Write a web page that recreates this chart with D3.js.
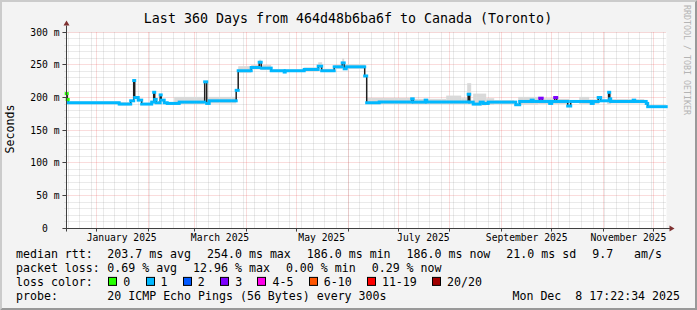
<!DOCTYPE html>
<html>
<head>
<meta charset="utf-8">
<script src="https://cdn.jsdelivr.net/npm/d3@7"></script>
<style>
  html, body { margin: 0; padding: 0; background: #f3f3f3; }
  svg { display: block; font-family: "DejaVu Sans Mono", monospace; }
  text { white-space: pre; }
</style>
</head>
<body>
<div id="svg-container"></div>
<script>
////////////////////////////////////////////////////////////////////
//////////////////////////////  Data  //////////////////////////////
const endTime = new Date(Date.UTC(2025, 11, 8, 17, 22, 34));
const spanDays = 360;

// median rtt steps: day offset from start of window, value in ms, loss bucket
const medianDays = [0, 0.6, 1.2, 31.8, 38.7, 40.5, 41.1, 43.2, 45.3, 51.3, 52.5, 53.1, 54, 56.4, 57,
  58.8, 60.6, 67.8, 83.1, 84.3, 85.8, 102, 103.2, 111, 115.8, 117, 123, 130.8, 131.4, 142.8,
  151.2, 153.3, 160.8, 165.6, 166.8, 168, 179.1, 180.3, 187.8, 207.3, 208.2, 215.4, 216.3, 241.2,
  242.1, 244.2, 248.4, 250.2, 253.2, 269.7, 272.1, 279, 280.2, 284.1, 285.6, 290.1, 291.3, 293.1,
  294.3, 300.9, 302.7, 315, 316.2, 319.2, 320.7, 325.5, 326.1, 326.7, 340.2, 341.1, 348, 348.9];
const medianMs = [206, 197, 192, 190, 195, 226, 200, 196, 190, 193, 208, 197, 192, 204, 196,
  192, 191, 193, 224, 191, 195, 211, 241, 246, 254, 245, 241, 239, 241, 243,
  248, 241, 247, 253, 244, 247, 233, 192, 193, 198, 193, 196, 193, 205,
  193, 190, 193, 191, 193, 189, 194, 196, 194, 199, 194, 191, 194, 200,
  194, 187, 194, 191, 194, 200, 195, 208, 198, 194, 196, 194, 191, 186];
const medianLoss = [0, 0, 1, 1, 1, 1, 1, 1, 1, 1, 1, 1, 1, 1, 1,
  1, 1, 1, 1, 1, 1, 1, 1, 1, 1, 1, 1, 1, 1, 1,
  1, 1, 1, 1, 1, 1, 1, 1, 1, 1, 1, 1, 1, 1,
  1, 1, 1, 1, 1, 1, 1, 1, 1, 3, 1, 1, 1, 3,
  1, 1, 1, 1, 1, 1, 1, 1, 1, 1, 1, 1, 1, 1];

// smoke (ping spread): from day, to day, low ms, high ms
const smokeFrom = [0, 1.2, 31.8, 64.8, 84.6, 103.2, 111, 115.8, 117, 123, 142.8, 151.2, 153.6, 160.8, 165.6,
  166.8, 180.6, 207, 228, 237, 240.6, 244.2, 252, 256.8, 271.2, 283.2, 292.8, 307.8, 313.8, 324.6, 327];
const smokeTo = [0.6, 31.8, 38.4, 82.8, 102, 111, 115.8, 117, 123, 142.8, 151.2, 153.6, 160.8, 165.6, 166.8,
  179.4, 207, 228, 237, 240.6, 243, 252, 256.8, 268.8, 283.2, 292.8, 301.8, 313.8, 319.8, 327, 346.8];
const smokeLo = [195, 190, 188, 190, 191, 238, 243, 245, 242, 239, 240, 244, 239, 244, 246,
  244, 190, 190, 190, 190, 190, 188, 189, 190, 189, 190, 190, 190, 190, 190, 191];
const smokeHi = [212, 194, 193, 201, 201, 248, 250, 258, 250, 243, 246, 254, 244, 250, 260,
  251, 199.5, 198, 203, 199, 222, 206, 199, 196, 201, 199, 198, 201, 197, 206, 197.5];

const yTicks = [0, 50, 100, 150, 200, 250, 300];
const monthLabels = ["January 2025", "March 2025", "May 2025", "July 2025", "September 2025", "November 2025"];

const lossLabels = ["0", "1", "2", "3", "4-5", "6-10", "11-19", "20/20"];
const lossColors = ["#26ff00", "#00b8ff", "#0059ff", "#7e00ff", "#ff00ea", "#ff5500", "#ff0000", "#a10000"];

const titleText = "Last 360 Days from 464d48b6ba6f to Canada (Toronto)";
const rttStats = ["203.7 ms avg", "254.0 ms max", "186.0 ms min", "186.0 ms now", "21.0 ms sd", "9.7   am/s"];
const lossStats = ["0.69 % avg", "12.96 % max", "0.00 % min", "0.29 % now"];
const probeText = "20 ICMP Echo Pings (56 Bytes) every 300s";
const stampText = "Mon Dec  8 17:22:34 2025";

////////////////////////////////////////////////////////////////////
//////////////////////////////  Init  //////////////////////////////
const width = 697, height = 310;
const svg = d3.select("#svg-container").append("svg")
    .attr("width", width).attr("height", height);

const startTime = new Date(endTime.getTime() - spanDays * 864e5);
const dayToDate = (d) => new Date(startTime.getTime() + d * 864e5);
const crisp = (v) => Math.floor(v) + 0.5;

const xScale = d3.scaleUtc().domain([startTime, endTime]).range([66.2, 666.2]);
const yScale = d3.scaleLinear().domain([0, 300]).range([228.2, 32.2]);

const plotLeft = crisp(xScale.range()[0]), plotRight = crisp(xScale.range()[1]);
const plotBottom = crisp(yScale(0)), plotTop = crisp(yScale(300));

// background + frame shading
svg.append("rect").attr("width", width).attr("height", height).attr("fill", "#f3f3f3");
svg.append("path").attr("fill", "#cbcbcb")
    .attr("d", `M0,0H${width}L${width - 2},2H2V${height - 2}L0,${height}Z`);
svg.append("path").attr("fill", "#999999")
    .attr("d", `M${width},0V${height}H0L2,${height - 2}H${width - 2}V2Z`);

// canvas
svg.append("rect")
    .attr("x", plotLeft).attr("y", plotTop)
    .attr("width", plotRight - plotLeft).attr("height", plotBottom - plotTop)
    .attr("fill", "#ffffff");

////////////////////////////////////////////////////////////////////
//////////////////////////////  Grid  //////////////////////////////
const minorColor = "rgba(143,143,143,0.38)";
const majorColor = "rgba(222,48,48,0.34)";
const grid = svg.append("g").attr("stroke-dasharray", "1,1").attr("stroke-width", 1);

// horizontal
d3.range(0, 301, 10).forEach((v) => {
    const yy = crisp(yScale(v));
    const major = v % 50 === 0;
    grid.append("line")
        .attr("x1", major ? plotLeft - 4 : plotLeft - 2).attr("x2", plotRight)
        .attr("y1", yy).attr("y2", yy)
        .attr("stroke", major ? majorColor : minorColor);
});

// vertical: weeks (minor) and months (major)
const weeks = d3.utcSunday.range(startTime, endTime);
const months = d3.utcMonth.range(startTime, endTime);
weeks.forEach((d) => {
    const xx = crisp(xScale(d));
    grid.append("line").attr("x1", xx).attr("x2", xx).attr("y1", plotTop).attr("y2", plotBottom)
        .attr("stroke", minorColor);
});
months.forEach((d) => {
    const xx = crisp(xScale(d));
    grid.append("line").attr("x1", xx).attr("x2", xx).attr("y1", plotTop).attr("y2", plotBottom + 3)
        .attr("stroke", majorColor);
});

////////////////////////////////////////////////////////////////////
//////////////////////////////  Smoke  /////////////////////////////
svg.append("g").selectAll("rect")
    .data(d3.range(smokeFrom.length))
    .enter().append("rect")
    .attr("x", (i) => xScale(dayToDate(smokeFrom[i])))
    .attr("width", (i) => xScale(dayToDate(smokeTo[i])) - xScale(dayToDate(smokeFrom[i])))
    .attr("y", (i) => yScale(smokeHi[i]))
    .attr("height", (i) => yScale(smokeLo[i]) - yScale(smokeHi[i]))
    .attr("fill", "#d9d9d9");

////////////////////////////////////////////////////////////////////
//////////////////////////////  Median  ////////////////////////////
const steps = medianDays.map((d, i) => ({
    x0: xScale(dayToDate(d)),
    x1: i < medianDays.length - 1 ? xScale(dayToDate(medianDays[i + 1])) : xScale(endTime),
    v: medianMs[i],
    loss: medianLoss[i]
}));

const stepLine = d3.line().x((d) => d[0]).y((d) => d[1]).curve(d3.curveStepAfter);
const linePts = steps.map((s) => [s.x0, yScale(s.v)]);
linePts.push([xScale(endTime), yScale(medianMs[medianMs.length - 1])]);

svg.append("path")
    .attr("d", stepLine(linePts))
    .attr("fill", "none")
    .attr("stroke", "#202020")
    .attr("stroke-width", 1.5);

svg.append("g").selectAll("line")
    .data(steps)
    .enter().append("line")
    .attr("x1", (d) => d.x0).attr("x2", (d) => d.x1)
    .attr("y1", (d) => yScale(d.v)).attr("y2", (d) => yScale(d.v))
    .attr("stroke", (d) => lossColors[d.loss])
    .attr("stroke-width", 3)
    .attr("stroke-linecap", "square");

////////////////////////////////////////////////////////////////////
//////////////////////////////  Axes  //////////////////////////////
const axisColor = "#404040";
const arrowColor = "#7f3131";

svg.append("line").attr("x1", plotLeft).attr("x2", plotRight + 4).attr("y1", plotBottom).attr("y2", plotBottom)
    .attr("stroke", axisColor);
svg.append("line").attr("x1", plotLeft).attr("x2", plotLeft).attr("y1", plotBottom + 3).attr("y2", plotTop - 7)
    .attr("stroke", axisColor);
svg.append("path").attr("fill", arrowColor)
    .attr("d", `M${plotRight + 3},${plotBottom - 3}L${plotRight + 8},${plotBottom}L${plotRight + 3},${plotBottom + 3}Z`);
svg.append("path").attr("fill", arrowColor)
    .attr("d", `M${plotLeft - 3},${plotTop - 7}L${plotLeft},${plotTop - 12}L${plotLeft + 3},${plotTop - 7}Z`);

// ticks
yTicks.forEach((v) => {
    const yy = crisp(yScale(v));
    svg.append("line").attr("x1", plotLeft - 4).attr("x2", plotLeft).attr("y1", yy).attr("y2", yy)
        .attr("stroke", axisColor);
});
months.forEach((d) => {
    const xx = crisp(xScale(d));
    svg.append("line").attr("x1", xx).attr("x2", xx).attr("y1", plotBottom).attr("y2", plotBottom + 3)
        .attr("stroke", axisColor);
});

// tick labels
svg.append("g").selectAll("text")
    .data(yTicks)
    .enter().append("text")
    .attr("x", 59.5)
    .attr("y", (d) => yScale(d) + 3.5)
    .attr("text-anchor", "end")
    .attr("font-size", "9.7px")
    .text((d) => (d === 0 ? "0  " : `${d} m`));

const labelMonths = months.filter((d) => d.getUTCMonth() % 2 === 0);
svg.append("g").selectAll("text")
    .data(labelMonths)
    .enter().append("text")
    .attr("x", (d) => xScale(d3.utcDay.offset(d, 15)))
    .attr("y", 241)
    .attr("text-anchor", "middle")
    .attr("font-size", "9.7px")
    .text((d, i) => monthLabels[i]);

// titles
svg.append("text")
    .attr("x", 348).attr("y", 23)
    .attr("text-anchor", "middle")
    .attr("font-size", "13.3px")
    .text(titleText);

svg.append("text")
    .attr("transform", "translate(14,129) rotate(-90)")
    .attr("text-anchor", "middle")
    .attr("font-size", "11.6px")
    .text("Seconds");

svg.append("text")
    .attr("transform", "translate(683.5,5) rotate(90)")
    .attr("font-size", "8.3px")
    .attr("fill", "#b4b4b4")
    .text("RRDTOOL / TOBI OETIKER");

////////////////////////////////////////////////////////////////////
//////////////////////////////  Legend  ////////////////////////////
const legend = svg.append("g").attr("font-size", "11.6px");
const rowY = [257.5, 271.7, 285.9, 300.1];
const col2 = 107.3;

function flowRow(yy, label, items, gap) {
    legend.append("text").attr("x", 16).attr("y", yy).text(label);
    let cx = col2;
    items.forEach((t) => {
        const el = legend.append("text").attr("x", cx).attr("y", yy).text(t);
        cx += el.node().getComputedTextLength() + gap;
    });
}

flowRow(rowY[0], "median rtt:", rttStats, 16);
flowRow(rowY[1], "packet loss:", lossStats, 16);

legend.append("text").attr("x", 16).attr("y", rowY[2]).text("loss color:");
let bx = col2 + 1;
lossLabels.forEach((lab, i) => {
    legend.append("rect")
        .attr("x", Math.round(bx) + 0.5).attr("y", rowY[2] - 8.5)
        .attr("width", 8).attr("height", 8)
        .attr("fill", lossColors[i])
        .attr("stroke", "#000");
    const el = legend.append("text").attr("x", bx + 15).attr("y", rowY[2]).text(lab);
    bx += 15 + el.node().getComputedTextLength() + 15.3;
});

legend.append("text").attr("x", 16).attr("y", rowY[3]).text("probe:");
legend.append("text").attr("x", col2).attr("y", rowY[3]).text(probeText);
legend.append("text").attr("x", 680).attr("y", rowY[3]).attr("text-anchor", "end").text(stampText);
</script>
</body>
</html>
